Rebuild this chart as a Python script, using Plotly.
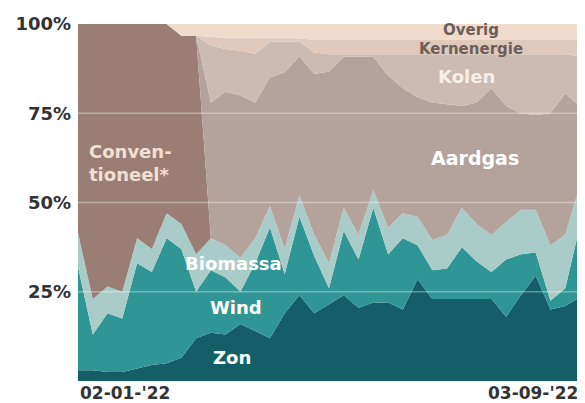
import plotly.graph_objects as go
import pandas as pd

# ---- data (weekly shares of electricity production, %) ----
weeks = pd.date_range("2022-01-02", periods=35, freq="7D")
x_tick_labels = ["02-01-'22", "03-09-'22"]
y_tick_vals = [25, 50, 75, 100]
y_tick_text = ["25%", "50%", "75%", "100%"]

zon = [3, 3, 2.5, 2.5, 3.5, 4.5, 5, 6.5, 12, 13.5, 13, 16, 14, 12, 19, 24, 19, 21.5,
       24, 20.5, 22, 22, 20, 28.5, 23, 23, 23, 23, 23, 18, 24, 29.5, 20, 21, 23.5]
wind = [29, 10, 16.5, 15, 29.5, 26, 35, 30.5, 13, 17.5, 16, 9, 19, 31, 11, 22, 16, 4.5,
        18, 13.5, 26.5, 13.5, 20, 9.5, 8, 8.5, 14.5, 10.5, 7.5, 16, 11.5, 6.5, 2.5, 5, 20]
biomassa = [9.5, 10, 7.5, 7.5, 7, 6.5, 7, 7, 10.5, 9, 9, 9.5, 7, 6, 7, 6, 6, 7,
            6.5, 7, 5, 7.5, 7, 8, 8.5, 9.5, 11, 10.5, 10.5, 10.5, 12.5, 12, 15.5, 15, 11.5]
conventioneel = [58.5, 77, 73.5, 75, 60, 63, 53, 52.7, 61.2, 0, 0, 0, 0, 0, 0, 0, 0, 0,
                 0, 0, 0, 0, 0, 0, 0, 0, 0, 0, 0, 0, 0, 0, 0, 0, 0]
aardgas = [0, 0, 0, 0, 0, 0, 0, 0, 0, 38, 43, 45.5, 38, 36, 49.5, 39, 45, 53.7,
           42.3, 49.8, 37.3, 42.6, 35, 33.5, 38.5, 36.5, 28.5, 34, 41, 32.5, 27, 26.5, 37, 39.5, 22]
kolen = [0, 0, 0, 0, 0, 0, 0, 0, 0, 16, 12, 12.5, 13.7, 10, 8.5, 4, 6, 4.8,
         0.7, 0.7, 0.7, 5.9, 9.5, 12, 13.5, 14, 14.5, 13.5, 9.5, 14.5, 16.5, 17, 16.5, 11, 14]
kernenergie = [0, 0, 0, 0, 0, 0, 0, 0, 0, 2.4, 3, 3.5, 4.3, 1, 1, 1, 3.5, 4,
               4, 4, 4, 4, 4, 4, 4, 4, 4, 4, 4, 4, 4, 4, 4, 4, 4.5]
overig = [0, 0, 0, 0, 0, 0, 0, 3.3, 3.3, 3.6, 4, 4, 4, 4, 4, 4, 4.5, 4.5,
          4.5, 4.5, 4.5, 4.5, 4.5, 4.5, 4.5, 4.5, 4.5, 4.5, 4.5, 4.5, 4.5, 4.5, 4.5, 4.5, 4.5]

series = [
    ("Zon", zon, "#145f67"),
    ("Wind", wind, "#2f9695"),
    ("Biomassa", biomassa, "#a9ccc8"),
    ("Conventioneel*", conventioneel, "#9a7e76"),
    ("Aardgas", aardgas, "#b4a39c"),
    ("Kolen", kolen, "#ccbbb2"),
    ("Kernenergie", kernenergie, "#dec9bc"),
    ("Overig", overig, "#f0dccd"),
]

FONT = "DejaVu Sans"

fig = go.Figure()
for name, vals, col in series:
    fig.add_trace(go.Scatter(
        x=weeks, y=vals, name=name, mode="lines", stackgroup="one",
        groupnorm="percent" if name == "Zon" else None,
        line=dict(width=0, color=col), fillcolor=col, hoverinfo="x+y+name",
    ))


def wx(i):
    return weeks[0] + pd.Timedelta(days=7 * i)


labels = [
    ("Overig", 26.6, 98.4, "#6d5f5a", 15),
    ("Kernenergie", 26.6, 92.9, "#6d5f5a", 15),
    ("Kolen", 26.3, 85.3, "#f5eee9", 18),
    ("Aardgas", 26.9, 62.6, "#ffffff", 19),
    ("Wind", 10.7, 20.5, "#ffffff", 18),
    ("Zon", 10.4, 6.6, "#ffffff", 18),
    ("Biomassa", 10.5, 33.0, "#ffffff", 18),
]
for txt, xi, yv, col, sz in labels:
    fig.add_annotation(x=wx(xi), y=yv, text=txt, showarrow=False, xanchor="center",
                       borderpad=0,
                       font=dict(family=FONT, size=sz, color=col, weight="bold"))

fig.add_annotation(x=wx(0.6), y=61, text="Conven-<br>tioneel*", showarrow=False,
                   xanchor="left", align="left",
                   font=dict(family=FONT, size=18, color="#f3dfd3", weight="bold"))

# gridlines above the areas
for v in [25, 50, 75]:
    fig.add_shape(type="line", xref="paper", x0=0, x1=1, yref="y", y0=v, y1=v,
                  line=dict(color="rgba(255,255,255,0.35)", width=1.5), layer="above")

# x labels at both ends
fig.add_annotation(x=weeks[0], y=0, yref="y", text=x_tick_labels[0], showarrow=False,
                   xanchor="left", yanchor="top", yshift=0,
                   font=dict(family=FONT, size=17, color="#333333", weight="bold"))
fig.add_annotation(x=weeks[-1], y=0, yref="y", text=x_tick_labels[1], showarrow=False,
                   xanchor="right", yanchor="top", yshift=0,
                   font=dict(family=FONT, size=17, color="#333333", weight="bold"))

# page body has an 8px margin, so the figure is sized to fit the 585x403 window
fig.update_layout(
    width=577, height=395,
    margin=dict(l=70, r=5, t=12, b=22),
    paper_bgcolor="white", plot_bgcolor="white",
    showlegend=False,
    xaxis=dict(range=[weeks[0], weeks[-1]], showticklabels=False, showgrid=False,
               zeroline=False, ticks=""),
    yaxis=dict(range=[0, 100], tickvals=y_tick_vals, ticktext=y_tick_text,
               showgrid=False, zeroline=False, ticks="", ticklabelstandoff=6,
               tickfont=dict(family=FONT, size=18, color="#333333", weight="bold")),
)

fig.write_html("out.html")
